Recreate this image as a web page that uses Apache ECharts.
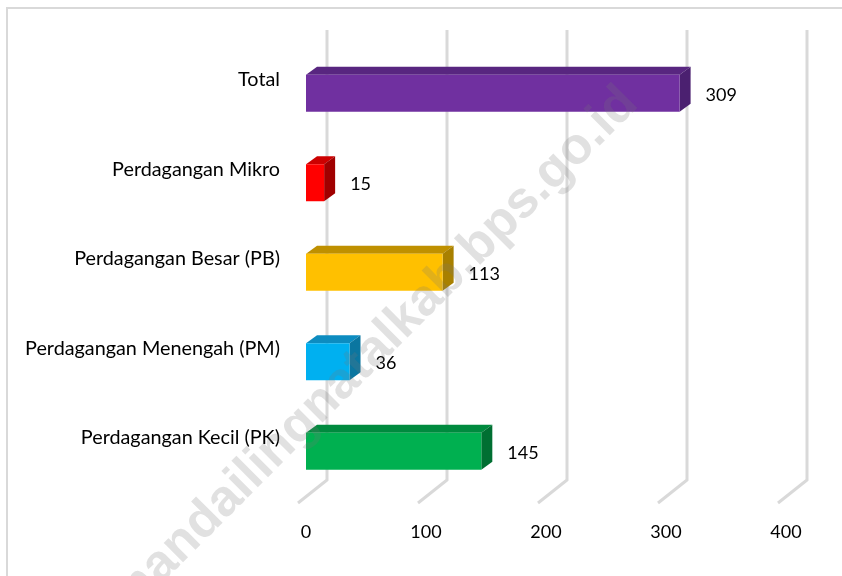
<!DOCTYPE html>
<html>
<head>
<meta charset="utf-8">
<style>
html, body { margin: 0; padding: 0; background: #fff; }
#chart { width: 842px; height: 576px; }
</style>
<script src="https://cdn.jsdelivr.net/npm/echarts@6/dist/echarts.min.js"></script>
</head>
<body>
<div id="chart"></div>
<script>
const categories = ['Total', 'Perdagangan Mikro', 'Perdagangan Besar (PB)', 'Perdagangan Menengah (PM)', 'Perdagangan Kecil (PK)'];
const values = [309, 15, 113, 36, 145];
const tickValues = [0, 100, 200, 300, 400];
const frontColors = ['#7030a0', '#ff0000', '#ffc000', '#00b0f0', '#00b050'];
const topColors = ['#582680', '#cc0000', '#bf9000', '#0d8cc0', '#008a3e'];
const sideColors = ['#4b2070', '#a00000', '#a88000', '#0b76a0', '#006f32'];
const font = 'Lato, sans-serif';

const chart = echarts.init(document.getElementById('chart'));

// box depth of the fake 3d bars
const dx = 11, dy = 8, barH = 37;

function renderBar(params, api) {
    const i = api.value(1);
    const end = api.coord([api.value(0), i]);
    const start = api.coord([0, i]);
    const y0 = end[1] - barH / 2 + 0.5, y1 = y0 + barH;
    const x0 = start[0], x1 = end[0];
    return {
        type: 'group',
        children: [
            { type: 'polygon', shape: { points: [[x0, y0], [x0 + dx, y0 - dy], [x1 + dx, y0 - dy], [x1, y0]] }, style: { fill: topColors[i] } },
            { type: 'polygon', shape: { points: [[x1, y0], [x1 + dx, y0 - dy], [x1 + dx, y1 - dy], [x1, y1]] }, style: { fill: sideColors[i] } },
            { type: 'rect', shape: { x: x0, y: y0, width: x1 - x0, height: barH }, style: { fill: frontColors[i] } },
            { type: 'text', style: { x: x1 + 26, y: end[1] + 2, text: String(api.value(0)), font: '18px ' + font, fill: '#000', verticalAlign: 'middle' } }
        ]
    };
}

function renderGridLine(params, api) {
    const p = api.coord([api.value(0), 0]);
    const x = p[0] + 21;
    return {
        type: 'polyline',
        shape: { points: [[x, 30], [x, 480], [x - 29, 503]] },
        style: { fill: 'none', stroke: '#d9d9d9', lineWidth: 3 }
    };
}

chart.setOption({
    animation: false,
    backgroundColor: '#fff',
    grid: { left: 306, top: 48, width: 480, height: 447.5 },
    xAxis: [
        {
            type: 'value', min: 0, max: 400, interval: 100, position: 'bottom',
            axisLine: { show: false }, axisTick: { show: false }, splitLine: { show: false },
            axisLabel: { margin: 28, fontFamily: font, fontSize: 18, color: '#000' }
        },
        // the perspective makes the bars run a little longer than the tick labels
        { type: 'value', min: 0, max: 397, show: false }
    ],
    yAxis: {
        type: 'category', data: categories, inverse: true,
        axisLine: { show: false }, axisTick: { show: false }, splitLine: { show: false },
        axisLabel: { margin: 26, verticalAlign: 'bottom', lineHeight: 26, fontFamily: font, fontSize: 19.8, color: '#000' }
    },
    series: [
        { type: 'custom', xAxisIndex: 0, z: 1, clip: false, silent: true, renderItem: renderGridLine, data: tickValues.map(v => [v, 0]) },
        { type: 'custom', xAxisIndex: 1, z: 2, clip: false, silent: true, renderItem: renderBar, data: values.map((v, i) => [v, i]) }
    ],
    graphic: [
        { type: 'rect', z: 0, shape: { x: 7, y: 8, width: 840, height: 580 }, style: { fill: 'none', stroke: '#d9d9d9', lineWidth: 2 } },
        {
            type: 'text', z: 100, x: 313, y: 412, rotation: 45 * Math.PI / 180,
            style: { text: 'https://mandailingnatalkab.bps.go.id', font: 'bold 51.5px "Liberation Sans", sans-serif', fill: 'rgba(120,120,120,0.22)', align: 'center', verticalAlign: 'middle' }
        }
    ]
});
</script>
</body>
</html>
